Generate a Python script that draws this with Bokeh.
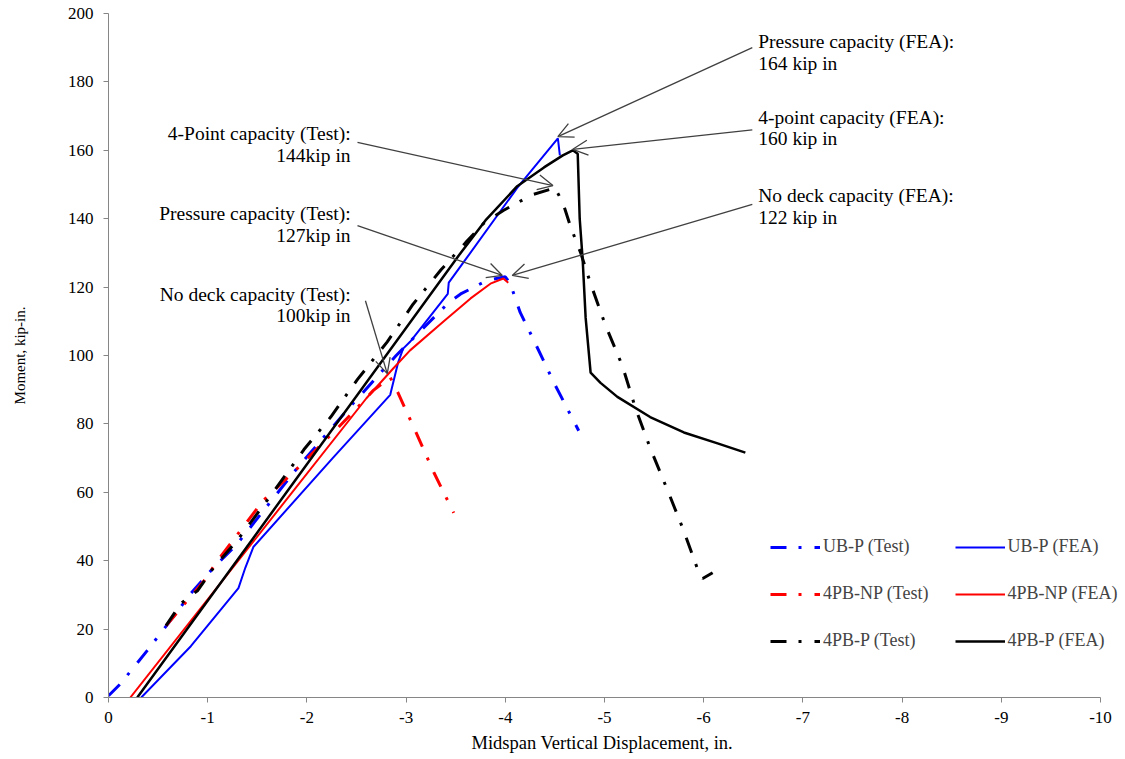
from bokeh.plotting import figure
from bokeh.models import (Range1d, FixedTicker, Legend, LegendItem, Arrow, OpenHead,
                          ColumnDataSource, Title)
from bokeh.core.properties import value
from bokeh.embed import file_html
from bokeh.resources import INLINE

# ---------------- data ----------------
x_ticks = [0, -1, -2, -3, -4, -5, -6, -7, -8, -9, -10]
x_tick_labels = ["0", "-1", "-2", "-3", "-4", "-5", "-6", "-7", "-8", "-9", "-10"]
y_ticks = [0, 20, 40, 60, 80, 100, 120, 140, 160, 180, 200]

ubp_test_x = [0.0, -0.12, -0.39, -0.6, -0.83, -1.06, -1.3, -1.9, -2.42, -2.9, -3.43, -3.55,
              -3.82, -4.0, -4.05, -4.15, -4.27, -4.5, -4.74]
ubp_test_y = [0.5, 4, 13.7, 21.6, 30.4, 38, 45, 67, 84.5, 100, 115.5, 118,
              122, 123, 121, 112.6, 105.5, 91.5, 78]

np_test_x = [-0.58, -0.96, -1.1, -1.56, -1.94, -2.3, -2.51, -2.67, -2.84, -2.92, -3.1, -3.28, -3.48]
np_test_y = [21, 34, 40, 57.6, 68, 78.5, 84.8, 89.8, 93.6, 89, 77.5, 65.8, 54]

p_test_x = [-0.58, -0.73, -0.9, -1.06, -1.3, -1.66, -1.97, -2.24, -2.51, -2.81, -3.07, -3.35,
            -3.6, -3.78, -3.98, -4.27, -4.5, -4.58, -4.66, -4.76, -4.86, -5.01, -5.18, -5.31,
            -5.46, -5.63, -5.79, -5.94, -5.99, -6.09]
p_test_y = [21, 27.5, 31.3, 38, 46, 60, 72.5, 82, 93, 104, 115, 125,
            133, 138.6, 142.4, 147, 149, 144.7, 137.5, 130, 121, 108.8, 97, 84.8,
            73, 61, 49.4, 37.4, 34.8, 36.5]

ubp_fea_x = [-0.33, -0.83, -1.31, -1.38, -1.46, -2.26, -2.84, -2.92, -2.97, -3.04, -3.42, -3.43,
             -3.62, -4.12, -4.53, -4.55]
ubp_fea_y = [0, 15, 32, 38, 44, 70, 88.5, 98, 102, 104, 118, 121.3,
             128.9, 149, 163.5, 158.5]

np_fea_x = [-0.22, -2.6, -2.87, -3.04, -3.38, -3.65, -3.85, -3.98, -4.03]
np_fea_y = [0, 87.5, 96.2, 101.5, 110, 116.7, 121, 122.5, 121.3]

p_fea_x = [-0.29, -3.55, -3.8, -4.12, -4.39, -4.58, -4.68, -4.73, -4.75, -4.78, -4.81, -4.86,
           -4.96, -5.13, -5.46, -5.8, -6.14, -6.42]
p_fea_y = [0, 130, 139.5, 149.5, 155, 158.5, 160, 159, 140, 128, 111, 95,
           92, 87.9, 82, 77.5, 74.3, 71.6]

series_names = ["UB-P (Test)", "4PB-NP (Test)", "4PB-P (Test)",
                "UB-P (FEA)", "4PB-NP (FEA)", "4PB-P (FEA)"]

# capacity call-outs: arrow tip (capacity point) and label anchor
cap_tip_x = [-4.53, -4.68, -4.07, -4.48, -3.97, -2.81]
cap_tip_y = [164, 160.3, 123.4, 149.7, 123.4, 94.7]
cap_tail_x = [-6.49, -6.49, -6.49, -2.51, -2.51, -2.59]
cap_tail_y = [190.0, 166.0, 144.2, 162.3, 138.0, 116.0]

fea_line1 = ["Pressure capacity (FEA):", "4-point capacity (FEA):", "No deck capacity (FEA):"]
fea_line2 = ["164 kip in", "160 kip in", "122 kip in"]
fea_text_x = [-6.55, -6.55, -6.55]
fea_text_y1 = [191.8, 169.6, 146.8]
fea_text_y2 = [185.4, 163.5, 140.4]

test_line1 = ["4-Point capacity (Test):", "Pressure capacity (Test):", "No deck capacity (Test):"]
test_line2 = ["144kip in", "127kip in", "100kip in"]
test_text_x = [-2.44, -2.44, -2.44]
test_text_y1 = [164.9, 141.5, 117.8]
test_text_y2 = [158.5, 135.1, 111.7]

x_label = "Midspan Vertical Displacement, in."
y_label = "Moment, kip-in."

# ---------------- figure ----------------
FONT = "Liberation Serif"
X_EXTRA = 0.252   # room right of the last tick so the legend is not clipped
p = figure(width=1125, height=759, output_backend="svg", toolbar_location=None,
           x_range=Range1d(0, x_ticks[-1] - X_EXTRA), y_range=Range1d(0, 200),
           min_border_left=108, min_border_right=0, min_border_top=13, min_border_bottom=62)
p.outline_line_color = None
p.grid.visible = False
p.background_fill_color = "white"
p.border_fill_color = "white"

for ax in (p.xaxis[0], p.yaxis[0]):
    ax.axis_line_color = "#868686"
    ax.major_tick_line_color = "#868686"
    ax.major_tick_out = 5
    ax.major_tick_in = 0
    ax.minor_tick_line_color = None
    ax.major_label_text_font = FONT
    ax.major_label_text_font_size = "17px"
    ax.major_label_text_color = "black"
    ax.axis_label_text_font = FONT
    ax.axis_label_text_font_style = "normal"
    ax.axis_label_text_color = "black"

p.xaxis.ticker = FixedTicker(ticks=x_ticks)
p.xaxis.bounds = (x_ticks[0], x_ticks[-1])
p.xaxis.major_label_overrides = {t: l for t, l in zip(x_ticks, x_tick_labels)}
p.xaxis.major_label_standoff = 9

# x-axis title placed under the 0..-10 axis span (frame extends a little further right)
p.add_layout(Title(text=x_label, align="left", offset=363, standoff=11,
                   text_font=FONT, text_font_size="18.5px", text_font_style="normal",
                   text_color="black"), "below")

p.yaxis.ticker = FixedTicker(ticks=y_ticks)
p.yaxis.major_label_standoff = 10
p.yaxis.axis_label = y_label
p.yaxis.axis_label_text_font_size = "15px"
p.yaxis.axis_label_standoff = 37

DASH = "16 12 3 13"
r_ubp_t = p.line(ubp_test_x, ubp_test_y, line_color="#0000FF", line_width=3, line_dash=DASH)
r_ubp_f = p.line(ubp_fea_x, ubp_fea_y, line_color="#0000FF", line_width=2)
r_np_t = p.line(np_test_x, np_test_y, line_color="#FF0000", line_width=3, line_dash=DASH)
r_np_f = p.line(np_fea_x, np_fea_y, line_color="#FF0000", line_width=2)
r_p_t = p.line(p_test_x, p_test_y, line_color="#000000", line_width=3, line_dash=DASH)
r_p_f = p.line(p_fea_x, p_fea_y, line_color="#000000", line_width=2.5)

renderers = [r_ubp_t, r_np_t, r_p_t, r_ubp_f, r_np_f, r_p_f]
legend = Legend(items=[LegendItem(label=n, renderers=[r]) for n, r in zip(series_names, renderers)],
                location=(662, 46), orientation="vertical", nrows=3,
                glyph_width=50, glyph_height=20, label_height=20, label_standoff=3,
                spacing=26, padding=0, margin=0,
                border_line_color=None, background_fill_alpha=0,
                label_text_font=FONT, label_text_font_size="18px")
p.add_layout(legend)

arrows = ColumnDataSource(dict(xs=cap_tail_x, ys=cap_tail_y, xe=cap_tip_x, ye=cap_tip_y))
p.add_layout(Arrow(source=arrows, x_start="xs", y_start="ys", x_end="xe", y_end="ye",
                   line_color="#404040", line_width=1.3,
                   end=OpenHead(size=15, line_color="#404040", line_width=1.3)))

for tx, ty, tt, align in ((fea_text_x, fea_text_y1, fea_line1, "left"),
                          (fea_text_x, fea_text_y2, fea_line2, "left"),
                          (test_text_x, test_text_y1, test_line1, "right"),
                          (test_text_x, test_text_y2, test_line2, "right")):
    p.text(x=tx, y=ty, text=tt, text_font=value(FONT), text_font_size="19.5px",
           text_align=align, text_baseline="alphabetic", text_color="black")

open("out.html", "w").write(file_html(p, INLINE))
